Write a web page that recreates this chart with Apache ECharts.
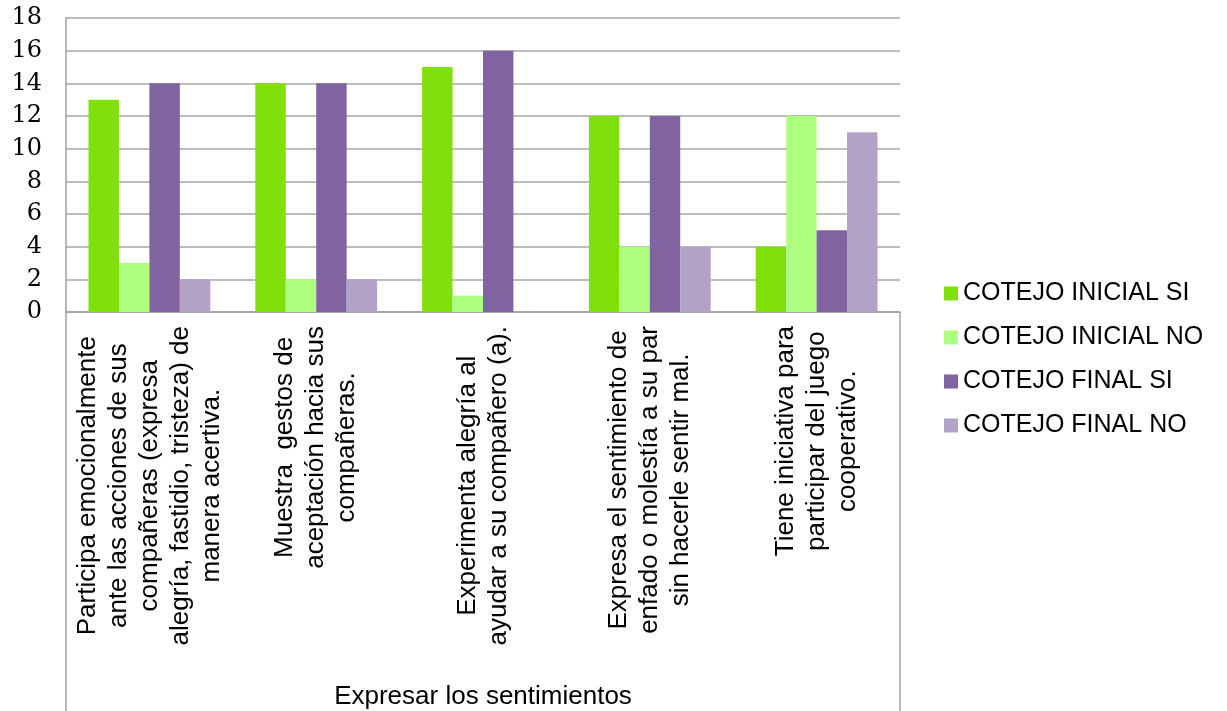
<!DOCTYPE html>
<html>
<head>
<meta charset="utf-8">
<script src="https://cdn.jsdelivr.net/npm/echarts@6/dist/echarts.min.js"></script>
<style>
  html, body { margin: 0; padding: 0; background: #fff; }
  #chart { width: 1227px; height: 711px; }
</style>
</head>
<body>
<div id="chart"></div>
<script>
// Category labels (line breaks as in the original chart)
const categories = [
  'Participa emocionalmente\nante las acciones de sus\ncompañeras (expresa\nalegría, fastidio, tristeza) de\nmanera acertiva.',
  'Muestra  gestos de\naceptación hacia sus\ncompañeras.',
  'Experimenta alegría al\nayudar a su compañero (a).',
  'Expresa el sentimiento de\nenfado o molestía a su par\nsin hacerle sentir mal.',
  'Tiene iniciativa para\nparticipar del juego\ncooperativo.'
];

const seriesNames = ['COTEJO INICIAL SI', 'COTEJO INICIAL NO', 'COTEJO FINAL SI', 'COTEJO FINAL NO'];

const inicialSi = [13, 14, 15, 12, 4];
const inicialNo = [3, 2, 1, 4, 12];
const finalSi = [14, 14, 16, 12, 5];
const finalNo = [2, 2, 0, 4, 11];

const colors = ['#80E00A', '#AEFF7E', '#8064A2', '#B3A2C7'];
const axisName = 'Expresar los sentimientos';

const labelFont = '26px "Liberation Sans", Arial';
const labelLineHeight = 31;
const labelMargin = 14;

const chart = echarts.init(document.getElementById('chart'));

const seriesData = [inicialSi, inicialNo, finalSi, finalNo];

chart.setOption({
  backgroundColor: '#ffffff',
  animation: false,
  color: colors,
  grid: { left: 66, right: 327, top: 18, bottom: 395, containLabel: false },
  legend: {
    orient: 'vertical',
    left: 939,
    top: 276,
    icon: 'rect',
    itemWidth: 14,
    itemHeight: 14,
    itemGap: 19,
    data: seriesNames,
    textStyle: { fontFamily: 'Liberation Sans, Arial', fontSize: 25, color: '#000', lineHeight: 25 }
  },
  xAxis: {
    type: 'category',
    data: categories,
    name: axisName,
    nameLocation: 'middle',
    nameGap: 372,
    nameTextStyle: { fontFamily: 'Liberation Sans, Arial', fontSize: 26, color: '#000' },
    axisLine: { show: true, lineStyle: { color: '#a0a0a0', width: 1.5 } },
    axisTick: { show: false },
    axisLabel: { show: false }
  },
  yAxis: {
    type: 'value',
    min: 0,
    max: 18,
    interval: 2,
    axisLine: { show: true, lineStyle: { color: '#a0a0a0', width: 1.5 } },
    axisTick: { show: false },
    axisLabel: { margin: 24, fontFamily: 'DejaVu Serif', fontSize: 24, color: '#000' },
    splitLine: { lineStyle: { color: '#a6a6a6', width: 1.5 } }
  },
  series: seriesNames.map((name, i) => ({
    name: name,
    type: 'bar',
    data: seriesData[i],
    barGap: '0%',
    barCategoryGap: '27%',
    itemStyle: { color: colors[i] }
  }))
});

// Rotated category labels with centred lines, placed from the axis scales
const ctx = document.createElement('canvas').getContext('2d');
ctx.font = labelFont;
const baseY = chart.convertToPixel({ yAxisIndex: 0 }, 0);
const step = chart.convertToPixel({ xAxisIndex: 0 }, 1) - chart.convertToPixel({ xAxisIndex: 0 }, 0);
const plotLeft = chart.convertToPixel({ xAxisIndex: 0 }, 0) - step / 2;
const plotRight = plotLeft + step * categories.length;

const labelGraphics = categories.map((text, i) => {
  const maxW = Math.max(...text.split('\n').map(s => ctx.measureText(s).width));
  return {
    type: 'text',
    x: chart.convertToPixel({ xAxisIndex: 0 }, i),
    y: baseY + labelMargin + maxW / 2,
    rotation: Math.PI / 2,
    style: {
      text: text,
      font: labelFont,
      lineHeight: labelLineHeight,
      textAlign: 'center',
      textVerticalAlign: 'middle',
      fill: '#000'
    }
  };
});

chart.setOption({
  graphic: labelGraphics.concat([
    { type: 'line', shape: { x1: plotLeft, y1: baseY, x2: plotLeft, y2: 711 }, style: { stroke: '#a0a0a0', lineWidth: 1.5 } },
    { type: 'line', shape: { x1: plotRight, y1: baseY, x2: plotRight, y2: 711 }, style: { stroke: '#a0a0a0', lineWidth: 1.5 } }
  ])
});
</script>
</body>
</html>
